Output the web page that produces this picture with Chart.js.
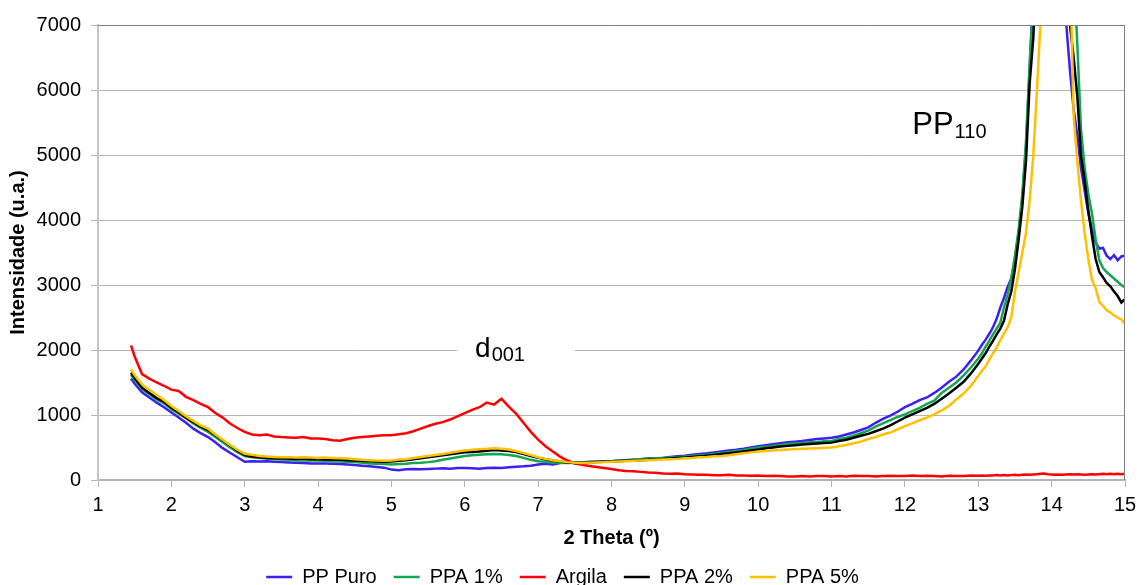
<!DOCTYPE html>
<html>
<head>
<meta charset="utf-8">
<script src="https://cdn.jsdelivr.net/npm/chart.js@4.4.1/dist/chart.umd.min.js"></script>
<style>
    body { margin: 0; background: #fff; }
    #wrap { width: 1137px; height: 585px; position: relative; }
</style>
</head>
<body>
<div id="wrap"><canvas id="xrdChart"></canvas></div>
<script>
// 2 Theta sample positions
const theta = [1.45, 1.5, 1.6, 1.7, 1.8, 1.9, 2.0, 2.1, 2.2, 2.3, 2.4, 2.5, 2.6, 2.7, 2.8, 2.9, 3.0,
    3.1, 3.2, 3.3, 3.4, 3.5, 3.6, 3.7, 3.8, 3.9, 4.0,
    4.1, 4.2, 4.3, 4.4, 4.5, 4.6, 4.7, 4.8, 4.9, 5.0,
    5.1, 5.2, 5.3, 5.4, 5.5, 5.6, 5.7, 5.8, 5.9, 6.0,
    6.1, 6.2, 6.3, 6.4, 6.5, 6.6, 6.7, 6.8, 6.9, 7.0,
    7.1, 7.2, 7.3, 7.4, 7.5, 7.6, 7.7, 7.8, 7.9, 8.0,
    8.1, 8.2, 8.3, 8.4, 8.5, 8.6, 8.7, 8.8, 8.9, 9.0,
    9.1, 9.2, 9.3, 9.4, 9.5, 9.6, 9.7, 9.8, 9.9, 10.0,
    10.1, 10.2, 10.3, 10.4, 10.5, 10.6, 10.7, 10.8, 10.9, 11.0,
    11.1, 11.2, 11.3, 11.4, 11.5, 11.6, 11.7, 11.8, 11.9, 12.0,
    12.1, 12.2, 12.3, 12.4, 12.5, 12.6, 12.7, 12.8, 12.9, 13.0,
    13.05, 13.1, 13.15, 13.2, 13.25, 13.3, 13.35, 13.4, 13.45, 13.5,
    13.55, 13.6, 13.65, 13.7, 13.75, 13.8, 13.85, 13.9, 13.95, 14.0,
    14.05, 14.1, 14.15, 14.2, 14.25, 14.3, 14.35, 14.4, 14.45, 14.5,
    14.55, 14.6, 14.65, 14.7, 14.75, 14.8, 14.85, 14.9, 14.95, 15.0];

const ppPuro = [1560, 1480, 1350, 1270, 1190, 1120, 1040, 960, 880, 790, 720, 660, 580, 490, 420, 350, 280,
    290, 285, 290, 280, 275, 270, 265, 260, 255, 255,
    255, 250, 245, 240, 230, 220, 210, 200, 190, 160,
    150, 165, 170, 165, 170, 175, 180, 175, 185, 185,
    180, 175, 185, 190, 185, 195, 205, 210, 220, 240,
    250, 240, 260, 270, 265, 270, 280, 285, 290, 290,
    300, 305, 310, 320, 330, 335, 340, 355, 365, 375,
    390, 400, 410, 425, 440, 455, 465, 480, 500, 520,
    535, 550, 565, 580, 590, 600, 615, 630, 640, 650,
    670, 700, 730, 770, 810, 880, 940, 990, 1050, 1120,
    1170, 1230, 1270, 1340, 1420, 1510, 1590, 1700, 1840, 1990,
    2080, 2160, 2250, 2350, 2480, 2650, 2800, 2970, 3100, 3400,
    3800, 4300, 5100, 6300, 7600, 9500, 11500, 13500, 15000, 15500,
    14000, 11500, 8200, 7000, 6300, 5700, 5300, 4800, 4450, 4100,
    3850, 3650, 3560, 3570, 3450, 3400, 3460, 3380, 3440, 3450];

const ppa1 = [1620, 1540, 1400, 1320, 1240, 1180, 1090, 1020, 950, 870, 800, 740, 660, 580, 500, 430, 370,
    350, 340, 330, 320, 315, 310, 305, 300, 300, 300,
    295, 290, 285, 280, 275, 265, 255, 250, 245, 240,
    245, 250, 260, 265, 275, 290, 310, 330, 350, 370,
    380, 390, 395, 400, 395, 385, 370, 340, 310, 290,
    280, 270, 265, 260, 265, 270, 275, 280, 285, 290,
    300, 305, 315, 320, 330, 335, 340, 345, 350, 360,
    370, 380, 390, 400, 415, 430, 445, 460, 480, 500,
    510, 525, 540, 555, 560, 570, 580, 585, 595, 600,
    630, 650, 680, 720, 760, 820, 870, 920, 970, 1010,
    1060, 1110, 1170, 1220, 1340, 1420, 1500, 1610, 1730, 1870,
    1950, 2050, 2140, 2240, 2330, 2420, 2650, 2850, 3100, 3450,
    3850, 4400, 5200, 6400, 7400, 9000, 11000, 13000, 14500, 15500,
    15000, 14000, 12500, 10500, 9000, 7900, 6700, 5400, 4800, 4400,
    4100, 3700, 3380, 3260, 3200, 3150, 3100, 3050, 3000, 2960];

const argila = [2070, 1900, 1630, 1560, 1500, 1450, 1390, 1370, 1280, 1230, 1170, 1120, 1030, 960, 870, 800, 740,
    700, 690, 700, 670, 660, 655, 650, 660, 640, 640,
    630, 610, 605, 630, 650, 660, 670, 680, 690, 690,
    705, 720, 750, 790, 830, 865, 890, 930, 980, 1030,
    1080, 1120, 1190, 1160, 1250, 1130, 1020, 880, 740, 620,
    520, 440, 360, 300, 255, 235, 215, 200, 185, 170,
    150, 140, 135, 125, 115, 110, 100, 95, 100, 90,
    85, 80, 80, 75, 75, 80, 70, 70, 65, 70,
    60, 65, 60, 55, 55, 60, 55, 60, 60, 55,
    60, 55, 65, 60, 60, 55, 60, 65, 60, 60,
    70, 60, 65, 60, 55, 65, 60, 60, 70, 65,
    70, 65, 70, 70, 75, 70, 75, 70, 75, 80,
    75, 80, 85, 80, 85, 90, 95, 100, 90, 85,
    80, 85, 80, 85, 90, 85, 90, 85, 80, 85,
    90, 85, 90, 95, 90, 95, 90, 95, 90, 95];

const ppa2 = [1650, 1570, 1420, 1340, 1260, 1200, 1110, 1040, 960, 890, 820, 770, 690, 610, 530, 450, 385,
    360, 350, 340, 335, 330, 330, 325, 330, 320, 320,
    315, 315, 310, 305, 300, 295, 290, 285, 280, 285,
    295, 305, 320, 335, 350, 365, 380, 395, 410, 425,
    430, 440, 450, 460, 455, 445, 430, 400, 370, 340,
    320, 300, 285, 270, 260, 265, 270, 275, 280, 285,
    290, 295, 300, 305, 310, 320, 325, 330, 340, 345,
    355, 365, 375, 385, 400, 410, 425, 440, 455, 470,
    490, 500, 515, 525, 535, 545, 555, 560, 570, 575,
    600, 620, 650, 680, 710, 750, 790, 840, 900, 960,
    1010, 1060, 1110, 1170, 1250, 1330, 1420, 1510, 1640, 1790,
    1870, 1950, 2050, 2140, 2240, 2330, 2450, 2700, 2900, 3250,
    3700, 4200, 4900, 6100, 6800, 8000, 10000, 12000, 14000, 15000,
    14500, 13000, 11000, 9000, 7000, 6500, 5900, 5000, 4600, 4150,
    3750, 3400, 3200, 3120, 3030, 2980, 2900, 2830, 2730, 2780];

const ppa5 = [1700, 1610, 1470, 1390, 1310, 1230, 1140, 1060, 980, 910, 840, 790, 700, 620, 540, 465, 405,
    390, 370, 360, 355, 350, 350, 345, 350, 345, 340,
    345, 340, 335, 330, 320, 310, 305, 300, 295, 300,
    315, 320, 340, 355, 370, 385, 400, 420, 440, 455,
    465, 475, 480, 490, 480, 470, 445, 415, 385, 350,
    325, 305, 290, 275, 265, 260, 265, 270, 275, 280,
    285, 290, 295, 300, 305, 310, 315, 320, 325, 335,
    340, 350, 355, 365, 370, 380, 395, 410, 425, 440,
    445, 455, 460, 470, 475, 480, 485, 490, 495, 500,
    520, 540, 565, 590, 630, 660, 700, 730, 780, 830,
    870, 920, 960, 1010, 1070, 1140, 1240, 1330, 1450, 1600,
    1680, 1750, 1850, 1950, 2040, 2150, 2250, 2350, 2500, 2900,
    3200, 3500, 3800, 4300, 5000, 6000, 7100, 8500, 10500, 13000,
    14500, 14000, 12500, 9500, 8000, 5600, 4900, 4300, 3800, 3400,
    3080, 2950, 2740, 2680, 2610, 2580, 2530, 2500, 2470, 2400];

const seriesNames = ['PP Puro', 'PPA 1%', 'Argila', 'PPA 2%', 'PPA 5%'];
const seriesColors = ['#3c1ff2', '#12a650', '#ff0000', '#000000', '#ffc000'];
const seriesValues = [ppPuro, ppa1, argila, ppa2, ppa5];

const xTicks = { min: 1, max: 15, step: 1 };
const yTicks = { min: 0, max: 7000, step: 1000 };

// peak labels (main text, subscript, position in data units)
const peakLabels = [
    { main: 'd', sub: '001', x: 6.14, y: 1900, size: 28, box: [5.9, 7.5, 1780, 2220] },
    { main: 'PP', sub: '110', x: 12.1, y: 5330, size: 31, box: null }
];

const fontName = '"Liberation Sans", Arial, sans-serif';
const fontSize = 20;

function buildDatasets(){
    return seriesNames.map((name, i) => ({
        label: name,
        data: theta.map((t, j) => ({ x: t, y: seriesValues[i][j] })),
        borderColor: seriesColors[i],
        backgroundColor: seriesColors[i],
        borderWidth: 2.5,
        pointRadius: 0,
        fill: false,
        tension: 0,
        order: seriesNames.length - i
    }));
}

const peakLabelPlugin = {
    id: 'peakLabels',
    afterDraw(chart){
        const ctx = chart.ctx;
        const xs = chart.scales.x, ys = chart.scales.y;
        const area = chart.chartArea;
        ctx.save();
        // darker frame on top and right
        ctx.strokeStyle = '#808080';
        ctx.lineWidth = 1;
        ctx.beginPath();
        ctx.moveTo(area.left, area.top + 0.5);
        ctx.lineTo(area.right, area.top + 0.5);
        ctx.moveTo(area.right - 0.5, area.top);
        ctx.lineTo(area.right - 0.5, area.bottom);
        ctx.stroke();

        peakLabels.forEach(lb => {
            if (lb.box) {
                const l = xs.getPixelForValue(lb.box[0]), r = xs.getPixelForValue(lb.box[1]);
                const b = ys.getPixelForValue(lb.box[2]), t = ys.getPixelForValue(lb.box[3]);
                ctx.fillStyle = '#ffffff';
                ctx.fillRect(l, t, r - l, b - t);
            }
            const px = xs.getPixelForValue(lb.x);
            const py = ys.getPixelForValue(lb.y);
            ctx.fillStyle = '#000';
            ctx.textBaseline = 'alphabetic';
            ctx.textAlign = 'left';
            ctx.font = lb.size + 'px ' + fontName;
            ctx.fillText(lb.main, px, py);
            const w = ctx.measureText(lb.main).width;
            ctx.font = '20px ' + fontName;
            ctx.fillText(lb.sub, px + w + 1, py + 4);
        });
        ctx.restore();
    }
};

function createChart(){
    const canvas = document.getElementById('xrdChart');
    new Chart(canvas, {
        type: 'line',
        data: { datasets: buildDatasets() },
        options: {
            responsive: true,
            maintainAspectRatio: false,
            animation: false,
            layout: { padding: { left: 0, right: 12, top: 25, bottom: -12 } },
            plugins: {
                legend: {
                    position: 'bottom',
                    labels: {
                        usePointStyle: true,
                        pointStyle: 'line',
                        pointStyleWidth: 26,
                        padding: 17,
                        color: '#000',
                        font: { family: fontName, size: fontSize },
                        sort: (a, b) => a.datasetIndex - b.datasetIndex
                    }
                },
                tooltip: { enabled: false }
            },
            scales: {
                x: {
                    type: 'linear',
                    min: xTicks.min,
                    max: xTicks.max,
                    afterFit: (scale) => {
                        scale.height = 70;
                        scale.paddingRight = 0;
                        scale.paddingLeft = 0;
                    },
                    ticks: {
                        stepSize: xTicks.step,
                        color: '#000',
                        padding: 6,
                        maxRotation: 0,
                        font: { family: fontName, size: fontSize }
                    },
                    grid: { drawOnChartArea: false, drawTicks: true, tickLength: 7, color: '#b3b3b3' },
                    border: { color: '#b3b3b3', width: 2 },
                    title: {
                        display: true,
                        text: '2 Theta (º)',
                        color: '#000',
                        padding: { top: 4, bottom: 0 },
                        font: { family: fontName, size: fontSize, weight: 'bold' }
                    }
                },
                y: {
                    min: yTicks.min,
                    max: yTicks.max,
                    afterFit: (scale) => { scale.width = 98; },
                    ticks: {
                        stepSize: yTicks.step,
                        color: '#000',
                        padding: 10,
                        font: { family: fontName, size: fontSize },
                        callback: (v) => String(v)
                    },
                    grid: { color: '#b3b3b3', tickLength: 7 },
                    border: { color: '#c4c4c4', width: 2 },
                    title: {
                        display: true,
                        text: 'Intensidade (u.a.)',
                        color: '#000',
                        padding: { top: 6, bottom: 0 },
                        font: { family: fontName, size: fontSize, weight: 'bold' }
                    }
                }
            }
        },
        plugins: [peakLabelPlugin]
    });
}

document.addEventListener('DOMContentLoaded', createChart);
</script>
</body>
</html>
